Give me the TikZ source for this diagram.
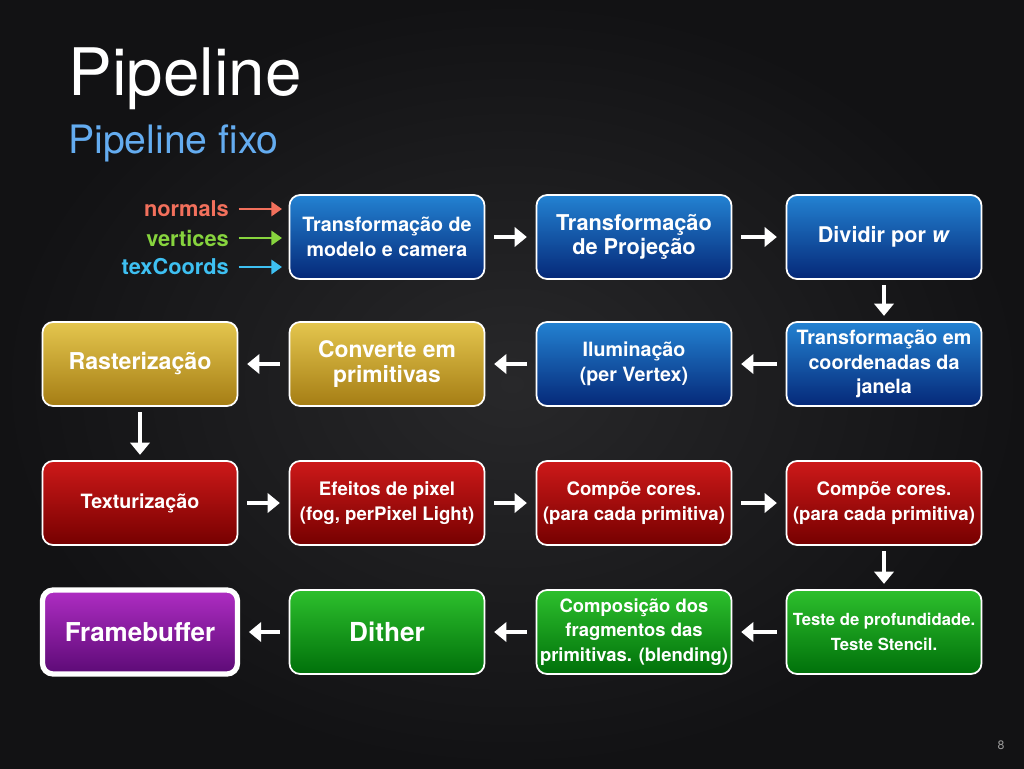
\documentclass[tikz,border=0pt]{standalone}
\usepackage{fontspec}
\setmainfont{TeX Gyre Heros}
\usetikzlibrary{arrows.meta, positioning, calc}
\definecolor{bgdark}{RGB}{18,18,20}
\definecolor{bglight}{RGB}{40,40,42}
\definecolor{blueTop}{RGB}{35,130,210}
\definecolor{blueBot}{RGB}{5,40,120}
\definecolor{yellowTop}{RGB}{228,198,78}
\definecolor{yellowBot}{RGB}{165,125,20}
\definecolor{redTop}{RGB}{205,25,25}
\definecolor{redBot}{RGB}{118,0,0}
\definecolor{greenTop}{RGB}{45,192,45}
\definecolor{greenBot}{RGB}{0,112,10}
\definecolor{purpleTop}{RGB}{175,45,195}
\definecolor{purpleBot}{RGB}{92,10,118}
\definecolor{subblue}{RGB}{100,172,240}
\definecolor{normalc}{RGB}{242,112,92}
\definecolor{vertexc}{RGB}{135,212,62}
\definecolor{texc}{RGB}{62,192,242}
\newcommand{\fs}[1]{\fontsize{#1}{14}\selectfont}

\begin{document}
\begin{tikzpicture}[x=0.02cm, y=-0.02cm,
  stage/.style={rectangle, draw=white, line width=1pt, rounded corners=6pt,
                minimum width=3.9cm, minimum height=1.68cm, inner sep=2pt,
                align=center, text=white, font=\bfseries\fs{11.2}},
  bluebox/.style={stage, top color=blueTop, bottom color=blueBot},
  yellowbox/.style={stage, top color=yellowTop, bottom color=yellowBot},
  redbox/.style={stage, top color=redTop, bottom color=redBot},
  greenbox/.style={stage, top color=greenTop, bottom color=greenBot},
  purplebox/.style={stage, top color=purpleTop, bottom color=purpleBot},
  flow/.style={-{Triangle[length=7pt,width=11pt]}, white, line width=2pt,
               shorten <=5pt, shorten >=5pt},
  down/.style={flow, shorten <=3pt, shorten >=3pt},
  input/.style={anchor=east, font=\bfseries\fs{12.4}},
  inarrow/.style={-{Triangle[length=6pt,width=8pt]}, line width=1.5pt, shorten <=2pt}
]
% background
\shade[inner color=bglight, outer color=bgdark] (0,0) rectangle (1024,768);
\useasboundingbox (0,0) rectangle (1024,768);

% titles
\node[anchor=base west, inner sep=0pt, text=white, font=\fontsize{37.3}{40}\selectfont]
  (title) at (68,95) {Pipeline};
\node[anchor=base west, inner sep=0pt, text=subblue, font=\fontsize{22.3}{24}\selectfont]
  (subtitle) at (68,153) {Pipeline fixo};

% row 1
\node[bluebox] (model) at (387,237) {Transformação de\\modelo e camera};
\node[bluebox, font=\bfseries\fs{12.4}] (proj) at (634,237) {Transformação\\de Projeção};
\node[bluebox, font=\bfseries\fs{12.3}] (divw) at (884,237) {Dividir por \textit{w}};

% row 2
\node[bluebox] (window) at (884,364) {Transformação em\\coordenadas da\\janela};
\node[bluebox] (light)  at (634,364) {Iluminação\\(per Vertex)};
\node[yellowbox, font=\bfseries\fs{13}] (prim)  at (387,364) {Converte em\\primitivas};
\node[yellowbox, font=\bfseries\fs{13.2}] (raster) at (140,364) {Rasterização};

% row 3
\node[redbox] (texture) at (140,503) {Texturização};
\node[redbox, font=\bfseries\fs{10.6}] (pixel)  at (387,503) {Efeitos de pixel\\(fog, perPixel Light)};
\node[redbox, font=\bfseries\fs{10.6}] (colorA) at (634,503) {Compõe cores.\\(para cada primitiva)};
\node[redbox, font=\bfseries\fs{10.6}] (colorB) at (884,503) {Compõe cores.\\(para cada primitiva)};

% row 4
\node[greenbox, font=\bfseries\fs{9.5}] (depth) at (884,632) {Teste de profundidade.\\Teste Stencil.};
\node[greenbox, font=\bfseries\fs{10.5}] (blend) at (634,632) {Composição dos\\fragmentos das\\primitivas. (blending)};
\node[greenbox, font=\bfseries\fs{14.9}] (dither) at (387,632) {Dither};
\node[purplebox, line width=3pt, font=\bfseries\fs{14.8}] (fbuf) at (140,632) {Framebuffer};

% inputs
\node[input, text=normalc] (normals)   at (235,209) {normals};
\node[input, text=vertexc] (vertices)  at (235,238) {vertices};
\node[input, text=texc]    (texcoords) at (235,267) {texCoords};
\coordinate (normalsEnd)   at (282,209);
\coordinate (verticesEnd)  at (282,238);
\coordinate (texcoordsEnd) at (282,267);
\draw[inarrow, normalc] (normals)   -- (normalsEnd);
\draw[inarrow, vertexc] (vertices)  -- (verticesEnd);
\draw[inarrow, texc]    (texcoords) -- (texcoordsEnd);

% flow
\draw[flow] (model)   -- (proj);
\draw[flow] (proj)    -- (divw);
\draw[down] (divw)    -- (window);
\draw[flow] (window)  -- (light);
\draw[flow] (light)   -- (prim);
\draw[flow] (prim)    -- (raster);
\draw[down] (raster)  -- (texture);
\draw[flow] (texture) -- (pixel);
\draw[flow] (pixel)   -- (colorA);
\draw[flow] (colorA)  -- (colorB);
\draw[down] (colorB)  -- (depth);
\draw[flow] (depth)   -- (blend);
\draw[flow] (blend)   -- (dither);
\draw[flow] (dither)  -- (fbuf);

% page number
\node[text=gray!80, font=\fs{7}] (page) at (1001,745) {8};
\end{tikzpicture}
\end{document}
